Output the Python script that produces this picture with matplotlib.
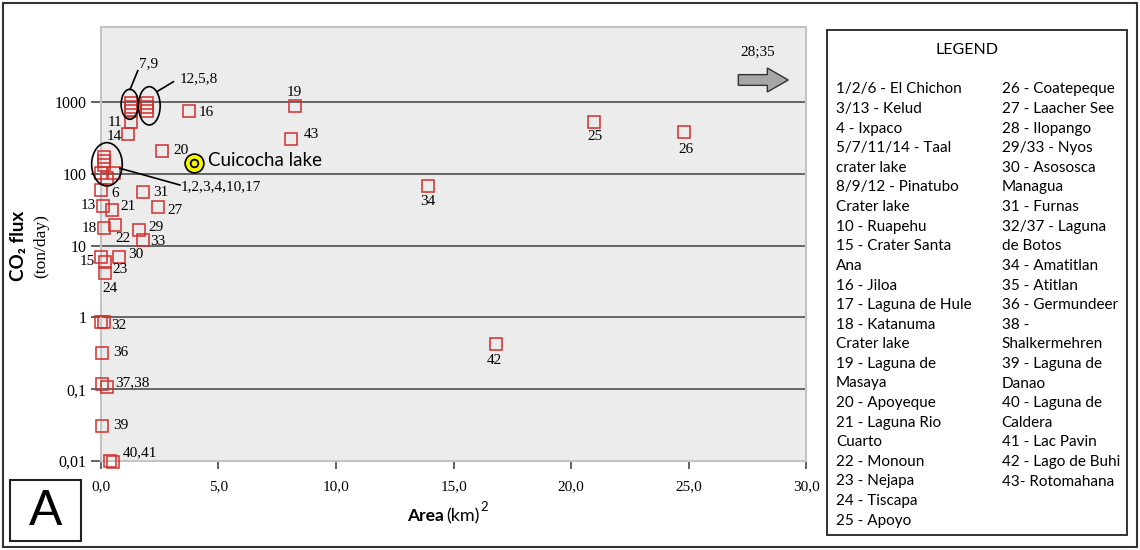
"""
CO2 flux vs lake area for volcanic crater lakes (panel A).
"""

import matplotlib

matplotlib.use("Agg")
import matplotlib.pyplot as plt
import matplotlib.transforms as mtransforms
from matplotlib.lines import Line2D
from matplotlib.patches import Ellipse, FancyArrow, Rectangle
from matplotlib.ticker import FixedFormatter, FixedLocator

# lake area (km2), CO2 flux (ton/day) and the number written next to each box
area = [1.28, 1.28, 1.28, 1.96, 1.96, 1.96, 1.29, 1.16, 3.74, 8.25, 8.10, 2.61,
        20.96, 24.78, 13.90, 16.80,
        0.15, 0.15, 0.15, 0.03, 0.26, 0.56,
        0.03, 1.81, 2.46, 0.11, 0.47, 0.14, 0.61, 1.64, 1.81,
        0.00, 0.19, 0.80, 0.17, 0.03, 0.15, 0.08, 0.08, 0.26, 0.08, 0.40, 0.51]
flux = [968, 852, 750, 968, 852, 750, 526, 358, 745, 874, 301, 209,
        535, 388, 68, 0.427,
        171, 151, 133, 104, 88, 102,
        59.4, 55, 34.8, 35.8, 31.6, 17.4, 19.4, 16.7, 11.9,
        7.0, 5.97, 7.0, 4.22, 0.85, 0.85, 0.324, 0.117, 0.108, 0.0309, 0.0099, 0.0096]
labels = ["", "", "", "", "", "", "11", "14", "16", "19", "43", "20",
          "25", "26", "34", "42",
          "", "", "", "", "", "",
          "6", "31", "27", "13", "21", "18", "22", "29", "33",
          "15", "23", "30", "24", "32", "", "36", "37,38", "", "39", "40,41", ""]

# grouped points: label, centre area, centre flux
group_labels = ["7,9", "12,5,8", "1,2,3,4,10,17"]
group_area = [1.24, 2.07, 0.27]
group_flux = [929, 885, 135.6]

cuicocha_area = 3.97
cuicocha_flux = 142

x_ticks = [0, 5, 10, 15, 20, 25, 30]
x_tick_labels = ["0,0", "5,0", "10,0", "15,0", "20,0", "25,0", "30,0"]
y_ticks = [0.01, 0.1, 1, 10, 100, 1000]
y_tick_labels = ["0,01", "0,1", "1", "10", "100", "1000"]

legend_col1 = ["1/2/6 - El Chichon", "3/13 - Kelud", "4 - Ixpaco", "5/7/11/14 - Taal",
               "crater lake", "8/9/12 - Pinatubo", "Crater lake", "10 - Ruapehu",
               "15 - Crater Santa", "Ana", "16 - Jiloa", "17 - Laguna de Hule",
               "18 - Katanuma", "Crater lake", "19 - Laguna de", "Masaya",
               "20 - Apoyeque", "21 - Laguna Rio", "Cuarto", "22 - Monoun",
               "23 - Nejapa", "24 - Tiscapa", "25 - Apoyo"]
legend_col2 = ["26 - Coatepeque", "27 - Laacher See", "28 - Ilopango", "29/33 - Nyos",
               "30 - Asososca", "Managua", "31 - Furnas", "32/37 - Laguna",
               "de Botos", "34 - Amatitlan", "35 - Atitlan", "36 - Germundeer",
               "38 -", "Shalkermehren", "39 - Laguna de", "Danao",
               "40 - Laguna de", "Caldera", "41 - Lac Pavin", "42 - Lago de Buhi",
               "43- Rotomahana"]

# label placement in pixels (dx, dy, ha)
label_offsets = {
    "11": (-9, 0, "right"), "14": (-6, -2, "right"), "16": (10, -1, "left"),
    "19": (0, 14, "center"), "43": (13, 5, "left"), "20": (11, 0, "left"),
    "25": (1, -14.5, "center"), "26": (2, -18, "center"), "34": (0, -16, "center"),
    "42": (-2, -17, "center"), "6": (10, -3, "left"), "31": (10, 0, "left"),
    "27": (9, -4, "left"), "13": (-7, 0, "right"), "21": (9, 3, "left"),
    "18": (-7, 0, "right"), "22": (8, -14, "center"), "29": (9, 2, "left"),
    "33": (7, -1, "left"), "15": (-6, -5, "right"), "30": (9, 2, "left"),
    "23": (7, -8, "left"), "24": (5, -16, "center"), "32": (10, -3, "left"),
    "36": (11, 0, "left"), "37,38": (13, 2, "left"), "39": (11, 0, "left"),
    "40,41": (13, 9, "left"),
}
# ellipse size, leader line and text offset for the groups (pixels)
group_layout = [
    ((17.3, 30), (0.3, 14.8), (8, 33.6), (9.3, 40.8)),
    ((21.7, 38.3), (7.5, 14.1), (24.1, 24.1), (30.8, 26.8)),
    ((30.6, 43.3), (13, -4), (73, -20.7), (74, -22)),
]

W, H = 1140, 550
SERIF = "Liberation Serif"
SANS = ["Lato", "DejaVu Sans"]
RED = "#d0302c"


def fx(px):
    return px / W


def fy(py):
    return 1 - py / H


fig = plt.figure(figsize=(11.4, 5.5), dpi=100)

ax = fig.add_axes([fx(100.6), fy(461), 705.9 / W, 434 / H])
ax.set_facecolor("#ececec")
ax.set_yscale("log")
ax.set_xlim(0, 30)
ax.set_ylim(0.01, 11080)
for sp in ax.spines.values():
    sp.set_color("#c4c4c4")
    sp.set_linewidth(1.5)

ax.yaxis.set_major_locator(FixedLocator(y_ticks))
ax.yaxis.set_major_formatter(FixedFormatter(y_tick_labels))
ax.yaxis.set_minor_locator(FixedLocator([]))
ax.xaxis.set_major_locator(FixedLocator(x_ticks))
ax.xaxis.set_major_formatter(FixedFormatter(x_tick_labels))
ax.tick_params(axis="y", length=7, width=1.3, color="#555555", pad=3, labelsize=11.5)
ax.tick_params(axis="x", length=6, width=1.3, color="#555555", pad=8, labelsize=11)
for t in ax.get_xticklabels() + ax.get_yticklabels():
    t.set_fontfamily(SERIF)
ax.yaxis.grid(True, color="#5a5a5a", linewidth=1.3)
ax.set_axisbelow(True)

ax.plot(area, flux, "s", ms=9, mfc="none", mec=RED, mew=1.1, clip_on=False, zorder=3)

for x, y, lab in zip(area, flux, labels):
    if not lab:
        continue
    dx, dy, ha = label_offsets[lab]
    ax.annotate(lab, (x, y), xytext=(dx, dy), textcoords="offset pixels",
                ha=ha, va="center", fontsize=11, fontfamily=SERIF,
                annotation_clip=False, zorder=4)


def at_point(x, y):
    return fig.dpi_scale_trans + mtransforms.ScaledTranslation(x, y, ax.transData)


for lab, gx, gy, lay in zip(group_labels, group_area, group_flux, group_layout):
    (ew, eh), p0, p1, tp = lay
    tr = at_point(gx, gy)
    ax.add_patch(Ellipse((0, 0), ew / 100, eh / 100, transform=tr, fill=False,
                         ec="black", lw=1.2, clip_on=False, zorder=5))
    ax.add_line(Line2D([p0[0] / 100, p1[0] / 100], [p0[1] / 100, p1[1] / 100],
                       transform=tr, color="black", lw=1.2, clip_on=False, zorder=5))
    ax.text(tp[0] / 100, tp[1] / 100, lab, transform=tr, ha="left", va="center",
            fontsize=11, fontfamily=SERIF, zorder=5)

# Cuicocha lake
ax.plot([cuicocha_area], [cuicocha_flux], "o", ms=13.5, mfc="#f7f700", mec="black",
        mew=1.2, zorder=6)
ax.plot([cuicocha_area], [cuicocha_flux], "o", ms=5.5, mfc="none", mec="black",
        mew=1.3, zorder=7)
ax.annotate("Cuicocha lake", (cuicocha_area, cuicocha_flux), xytext=(14, 2),
            textcoords="offset pixels", ha="left", va="center", fontsize=13.5,
            fontfamily=SANS, zorder=7)

# off-scale lakes 28 and 35
ax.add_patch(FancyArrow(0.9034, 0.8779, 0.0708, 0, width=0.0247, head_width=0.0553,
                        head_length=0.0297, length_includes_head=True,
                        transform=ax.transAxes, fc="#a6a6a6", ec="#333333", lw=1,
                        clip_on=False, zorder=5))
ax.text(0.931, 0.942, "28;35", transform=ax.transAxes, ha="center", va="center",
        fontsize=11, fontfamily=SERIF)

# axis titles
fig.text(fx(19), fy(246), "CO\u2082 flux", rotation=90, ha="center", va="center",
         fontsize=13.5, fontweight="bold", fontfamily=SANS)
fig.text(fx(41), fy(246), "(ton/day)", rotation=90, ha="center", va="center",
         fontsize=12.5, fontfamily=SERIF)
fig.text(fx(444), fy(516), "Area", ha="right", va="center", fontsize=12.5,
         fontweight="bold", fontfamily=SANS)
fig.text(fx(446), fy(516), "(km)", ha="left", va="center", fontsize=13,
         fontfamily=SANS)
fig.text(fx(480), fy(507), "2", ha="left", va="center", fontsize=9.5,
         fontfamily=SANS)

# panel letter
fig.patches.append(Rectangle((fx(10), fy(541)), 71 / W, 61 / H, fill=False,
                             ec="#222222", lw=1.5, transform=fig.transFigure))
fig.text(fx(46), fy(512), "A", ha="center", va="center", fontsize=36,
         fontfamily="Liberation Sans")

# legend box
fig.patches.append(Rectangle((fx(827), fy(535)), 300 / W, 505 / H, fill=False,
                             ec="#222222", lw=1.3, transform=fig.transFigure))
fig.text(fx(967), fy(50), "LEGEND", ha="center", va="center", fontsize=11.5,
         fontfamily=SANS)
for i, s in enumerate(legend_col1):
    fig.text(fx(836), fy(89.5 + 19.6 * i), s, ha="left", va="center",
             fontsize=11, fontfamily=SANS)
for i, s in enumerate(legend_col2):
    fig.text(fx(1001.5), fy(89.5 + 19.6 * i), s, ha="left", va="center",
             fontsize=11, fontfamily=SANS)

# outer frame
fig.patches.append(Rectangle((fx(3), fy(547)), 1134 / W, 544 / H, fill=False,
                             ec="#333333", lw=1.5, transform=fig.transFigure))

fig.savefig("out.png", dpi=100)
